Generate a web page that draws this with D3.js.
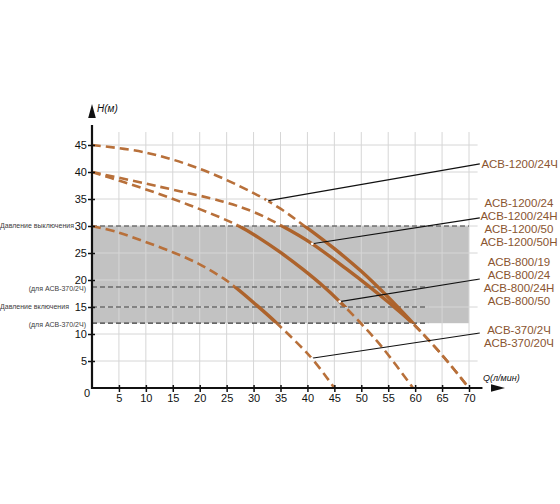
<!DOCTYPE html>
<html><head><meta charset="utf-8">
<script src="https://cdn.jsdelivr.net/npm/d3@7"></script>
<style>body{margin:0;background:#fff}svg{display:block;font-family:"Liberation Sans",Arial,sans-serif}</style>
</head><body>
<svg id="c" width="560" height="504"></svg>
<script>
// ---- data ----
const qTicks = [5,10,15,20,25,30,35,40,45,50,55,60,65,70];
const hTicks = [5,10,15,20,25,30,35,40,45];

// АСВ-1200/24Ч
const qA = [0,10,20,30,35,39.2,45,50,55,59.4,65,70];
const hA = [45,43.6,40.6,36.1,33.2,30.2,25.8,21.6,16.8,12.2,6.1,0];
// АСВ-1200/24 ...
const qB = [0,12,24.4,30,35.3,40.9,47.3,51.2,55.5,59.4,65,70];
const hB = [40,37.4,34.5,32.6,30,26.7,22,19.0,15.5,12.1,6.1,0];
// АСВ-800/19 ...
const qC = [0,6,12,18,24,27.3,31,35,39,43,46,50,54,59.6];
const hC = [40,38.1,36.1,33.9,31.5,30,27.8,25.1,22.1,18.8,16,11.9,7.4,0];
// АСВ-370/2Ч ...
const qD = [0,4.6,9.8,15.1,20,24.4,26.2,30.6,34.3,40.8,45];
const hD = [30,28.9,27.1,25.1,22.9,20.3,19,15.3,12,5.5,0];

// working bands (solid part of each curve)
const bandA = [12,30], bandB = [12,30], bandC = [15,30], bandD = [12,18.7];
const shadedBand = [12,30];

// reference pressure lines
const refH = [30,18.7,15,12];
const refQend = [70,62.4,62.4,62.4];
const refLeftText = ["Давление выключения","(для АСВ-370/2Ч)","Давление включения","(для АСВ-370/2Ч)"];

// leader start points on the curves
const leaderQ = [32.5,40.9,46,40.8];
const leaderH = [34.65,26.7,16,5.5];
const leaderEndH = [41.5,31.5,20.2,10.2];
const labelsA = ["АСВ-1200/24Ч"];
const labelsB = ["АСВ-1200/24","АСВ-1200/24Н","АСВ-1200/50","АСВ-1200/50Н"];
const labelsC = ["АСВ-800/19","АСВ-800/24","АСВ-800/24Н","АСВ-800/50"];
const labelsD = ["АСВ-370/2Ч","АСВ-370/20Ч"];

// ---- drawing ----
const svg = d3.select("#c");
const x = d3.scaleLinear().domain([0,70]).range([92,469]);
const y = d3.scaleLinear().domain([0,45]).range([388,145]);
const brown = "#b8703a", brownSolid = "#ad632c", labelColor = "#8a5530";

// shaded band
svg.append("rect").attr("x",x(0)).attr("y",y(shadedBand[1]))
  .attr("width",x(70)-x(0)).attr("height",y(shadedBand[0])-y(shadedBand[1]))
  .attr("fill","#c2c2c2");

// grid
const grid = svg.append("g").attr("stroke","#d6d6d6").attr("stroke-width",1);
grid.selectAll("line.v").data(qTicks).join("line")
  .attr("x1",d=>x(d)).attr("x2",d=>x(d)).attr("y1",y(0)).attr("y2",y(47.4));
grid.selectAll("line.h").data(hTicks).join("line")
  .attr("y1",d=>y(d)).attr("y2",d=>y(d)).attr("x1",x(0)).attr("x2",x(71.6));

// reference dashed lines
svg.append("g").selectAll("line").data(refH).join("line")
  .attr("x1",x(0)).attr("x2",(d,i)=>x(refQend[i]))
  .attr("y1",d=>y(d)).attr("y2",d=>y(d))
  .attr("stroke","#3a3a3a").attr("stroke-width",1.2).attr("stroke-dasharray","5,3");
svg.append("g").selectAll("text").data(refH).join("text")
  .attr("x",(d,i)=> i%2===0 ? 0 : 86)
  .attr("text-anchor",(d,i)=> i%2===0 ? "start" : "end")
  .attr("y",(d,i)=>y(d) + (i%2===1 ? 1.5 : 0)).attr("dy","0.35em")
  .attr("font-size",7).attr("fill","#3c3c3c")
  .text((d,i)=>refLeftText[i]);

// curves
const line = d3.line().x(d=>x(d[0])).y(d=>y(d[1])).curve(d3.curveCatmullRom.alpha(0.5));
const defs = svg.append("defs");
const curves = [[qA,hA,bandA],[qB,hB,bandB],[qC,hC,bandC],[qD,hD,bandD]];
curves.forEach(([qs,hs,band],i)=>{
  const pts = qs.map((q,k)=>[q,hs[k]]);
  const cin = defs.append("clipPath").attr("id","in"+i);
  cin.append("rect").attr("x",0).attr("width",560).attr("y",y(band[1])).attr("height",y(band[0])-y(band[1]));
  const cout = defs.append("clipPath").attr("id","out"+i);
  cout.append("rect").attr("x",0).attr("width",560).attr("y",0).attr("height",y(band[1]));
  cout.append("rect").attr("x",0).attr("width",560).attr("y",y(band[0])).attr("height",504-y(band[0]));
  svg.append("path").attr("d",line(pts)).attr("fill","none").attr("stroke",brown)
    .attr("stroke-width",2.6).attr("stroke-dasharray","9,5").attr("clip-path","url(#out"+i+")");
  svg.append("path").attr("d",line(pts)).attr("fill","none").attr("stroke",brownSolid)
    .attr("stroke-width",3.4).attr("clip-path","url(#in"+i+")");
});

// leaders & labels
const groups = [labelsA,labelsB,labelsC,labelsD];
const labelCenterH = [41.5,34.3,23.3,10.7];
groups.forEach((labels,i)=>{
  svg.append("line").attr("x1",x(leaderQ[i])).attr("y1",y(leaderH[i]))
    .attr("x2",x(72)).attr("y2",y(leaderEndH[i]))
    .attr("stroke","#111").attr("stroke-width",1.1);
  svg.append("circle").attr("cx",x(leaderQ[i])).attr("cy",y(leaderH[i])).attr("r",1.4).attr("fill","#fff");
  const single = labels.length===1;
  svg.append("g").selectAll("text").data(labels).join("text")
    .attr("x", single ? 558 : 519)
    .attr("text-anchor", single ? "end" : "middle")
    .attr("y",(d,k)=>y(labelCenterH[i])+k*13).attr("dy","0.35em")
    .attr("font-size",11.5).attr("fill",labelColor).text(d=>d);
});

// axes
const ax = svg.append("g").attr("transform",`translate(0,${y(0)})`)
  .call(d3.axisBottom(x).tickValues(qTicks).tickSize(4).tickPadding(2));
ax.select(".domain").remove();
ax.selectAll(".tick line").attr("y1",-3).attr("stroke","#111").attr("stroke-width",1.5);
ax.selectAll(".tick text").attr("font-size",11).attr("fill","#111").attr("font-family","inherit");
const ay = svg.append("g").attr("transform",`translate(${x(0)},0)`)
  .call(d3.axisLeft(y).tickValues(hTicks).tickSize(4).tickPadding(1));
ay.select(".domain").remove();
ay.selectAll(".tick line").attr("x1",3).attr("stroke","#111").attr("stroke-width",1.5);
ay.selectAll(".tick text").attr("font-size",11).attr("fill","#111").attr("font-family","inherit");

svg.append("line").attr("x1",x(0)).attr("x2",x(0)).attr("y1",y(0)+1).attr("y2",y(47.6)-6)
  .attr("stroke","#111").attr("stroke-width",2.2);
svg.append("line").attr("x1",x(0)-1).attr("x2",x(72.5)).attr("y1",y(0)).attr("y2",y(0))
  .attr("stroke","#111").attr("stroke-width",2.2);
const yTop = y(0)-284, xRight = x(0)+413;
svg.append("path").attr("d",`M${x(0)},${yTop} l-3.8,14 l7.6,0 Z`).attr("fill","#111");
svg.append("path").attr("d",`M${xRight},${y(0)} l-14,-3.8 l0,7.6 Z`).attr("fill","#111");

svg.append("text").attr("x",x(0)-5).attr("y",y(0)+5).attr("dy","0.35em").attr("text-anchor","middle")
  .attr("font-size",11).attr("fill","#111").text("0");
svg.append("text").attr("x",x(0)+5).attr("y",yTop+8).attr("font-size",10).attr("font-style","italic")
  .attr("fill","#111").text("H(м)");
svg.append("text").attr("x",483).attr("y",381).attr("font-size",9).attr("font-style","italic")
  .attr("fill","#111").text("Q(л/мин)");
</script>
</body></html>
